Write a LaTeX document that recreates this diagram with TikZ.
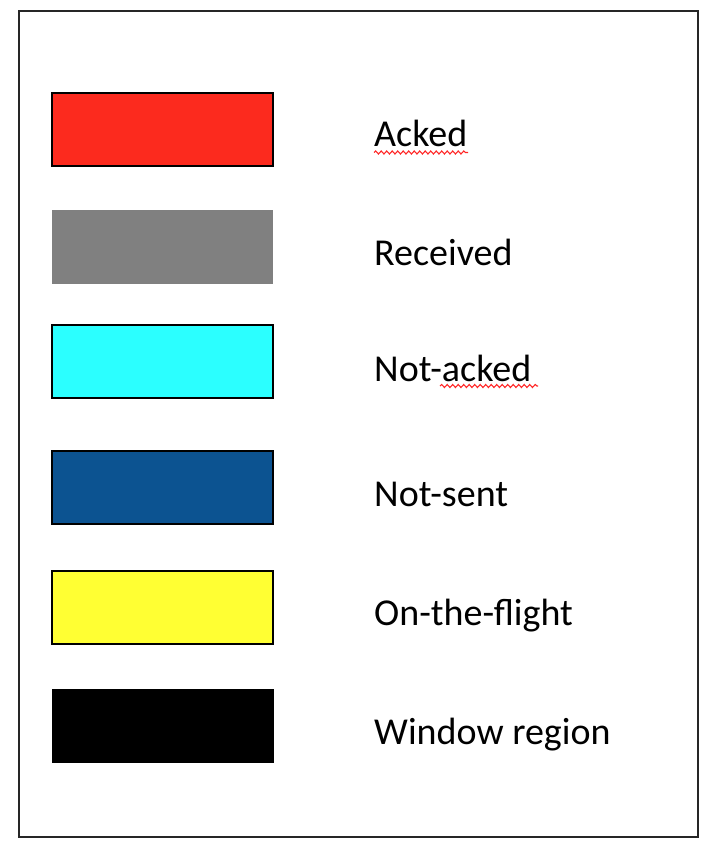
\documentclass[tikz,border=0pt]{standalone}
\usepackage{fontspec}
\setmainfont{Carlito}
\usetikzlibrary{decorations.pathmorphing}
\definecolor{cred}{RGB}{252,42,30}
\definecolor{cgray}{RGB}{128,128,128}
\definecolor{ccyan}{RGB}{43,255,255}
\definecolor{cblue}{RGB}{12,83,145}
\definecolor{cyellow}{RGB}{255,255,51}
\definecolor{frame}{RGB}{38,38,38}
\tikzset{
  swatch/.style={minimum width=221pt, minimum height=73pt, inner sep=0pt, line width=1.8pt, draw=black},
  lbl/.style={anchor=base west, inner sep=0pt, font=\fontsize{38pt}{41pt}\selectfont},
  spell/.style={draw=red!85, line width=1.1pt, decorate, decoration={snake, amplitude=1.5pt, segment length=5.5pt}}
}
\begin{document}
\begin{tikzpicture}[x=1pt,y=-1pt]
\useasboundingbox (0,0) rectangle (714,850);
\draw[frame, line width=2pt] (19,11) rectangle (698,837);
\node[swatch, fill=cred] (s1) at (162.75,129.75) {};
\node[swatch, fill=cgray, draw=none] (s2) at (162,247) {};
\node[swatch, fill=ccyan] (s3) at (162.75,361.5) {};
\node[swatch, fill=cblue] (s4) at (162.75,487.5) {};
\node[swatch, fill=cyellow] (s5) at (162.75,607.5) {};
\node[swatch, fill=black] (s6) at (163,726) {};
\node[lbl] (t1) at (374,147) {Acked};
\node[lbl] (t2) at (374,265) {Received};
\node[lbl] (t3) at (374,381) {Not-acked};
\node[lbl] (t4) at (374,506) {Not-sent};
\node[lbl] (t5) at (374,625) {On-the-flight};
\node[lbl] (t6) at (374,744) {Window region};
\coordinate (u1a) at (374,152.5);
\coordinate (u1b) at (468,152.5);
\coordinate (u3a) at (440,386);
\coordinate (u3b) at (538,386);
\draw[spell] (u1a) -- (u1b);
\draw[spell] (u3a) -- (u3b);
\end{tikzpicture}
\end{document}
